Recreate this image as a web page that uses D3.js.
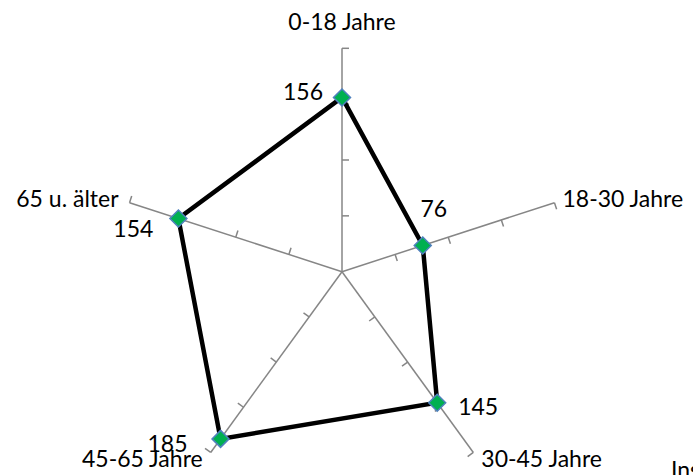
<!DOCTYPE html>
<html>
<head>
<meta charset="utf-8">
<script src="https://cdn.jsdelivr.net/npm/d3@7"></script>
<style>
  body { margin: 0; background: #fff; }
  svg { display: block; }
  text { font-family: Lato, "Noto Sans", sans-serif; font-size: 23px; fill: #000; }
</style>
</head>
<body>
<div id="chart"></div>
<script>
// data
var categories = ["0-18 Jahre", "18-30 Jahre", "30-45 Jahre", "45-65 Jahre", "65 u. älter"]
var values = [156, 76, 145, 185, 154]
var tickValues = [50, 100, 150, 200]
var legendText = "Insgesamt"

// label placement next to the points (layout only)
var labelPlace = [
  {dx: -19, dy: 3, anchor: "end"},
  {dx: 11, dy: -28, anchor: "middle"},
  {dx: 21, dy: 12, anchor: "start"},
  {dx: -33, dy: 13, anchor: "end"},
  {dx: -25, dy: 18, anchor: "end"}
]

var width = 693, height = 475
var cx = 342, cy = 271.7
var R = 223.4

var svg = d3.select("#chart").append("svg")
    .attr("width", width)
    .attr("height", height)

var r = d3.scaleLinear().domain([0, 200]).range([0, R])
var angle = d3.scaleLinear().domain([0, categories.length]).range([0, 2 * Math.PI])

function pt(i, v){
  var a = angle(i)
  return [cx + Math.sin(a) * r(v), cy - Math.cos(a) * r(v)]
}

// axes
var axes = svg.append("g").attr("class", "axes")
categories.forEach(function(c, i){
  var a = angle(i)
  var ux = Math.sin(a), uy = -Math.cos(a)
  // tick direction: rotate axis direction clockwise
  var tx = -uy, ty = ux
  var end = pt(i, 200)
  axes.append("line")
    .attr("x1", cx).attr("y1", cy)
    .attr("x2", end[0]).attr("y2", end[1])
    .attr("stroke", "#868686")
    .attr("stroke-width", 1.5)
  tickValues.forEach(function(t){
    var p = pt(i, t)
    axes.append("line")
      .attr("x1", p[0]).attr("y1", p[1])
      .attr("x2", p[0] + tx * 7).attr("y2", p[1] + ty * 7)
      .attr("stroke", "#868686")
      .attr("stroke-width", 1.5)
  })

  // category label
  var anchor = ux > 0.1 ? "start" : (ux < -0.1 ? "end" : "middle")
  var lx = end[0] + (anchor == "start" ? 8 : anchor == "end" ? -8 : 0)
  var ly = uy < -0.9 ? end[1] - 18 : (uy > 0.5 ? end[1] + 14.5 : end[1] + 4.5)
  if (ux < -0.9) lx = end[0] - 11
  axes.append("text")
    .attr("x", lx)
    .attr("y", ly)
    .attr("text-anchor", anchor)
    .text(c)
})

// series line
var line = d3.line()
  .x(function(d){ return d[0] })
  .y(function(d){ return d[1] })
  .curve(d3.curveLinearClosed)

var pts = values.map(function(v, i){ return pt(i, v) })

svg.append("path")
  .attr("d", line(pts))
  .attr("fill", "none")
  .attr("stroke", "#000")
  .attr("stroke-width", 4.5)
  .attr("stroke-linejoin", "miter")

// markers
svg.selectAll(".marker")
  .data(pts)
  .enter()
  .append("path")
  .attr("class", "marker")
  .attr("d", function(d){
    var s = 8.5
    return "M" + d[0] + "," + (d[1] - s) + "L" + (d[0] + s) + "," + d[1] +
      "L" + d[0] + "," + (d[1] + s) + "L" + (d[0] - s) + "," + d[1] + "Z"
  })
  .attr("fill", "#00B050")
  .attr("stroke", "#4F81BD")
  .attr("stroke-width", 1.5)

// data labels
svg.selectAll(".val")
  .data(values)
  .enter()
  .append("text")
  .attr("class", "val")
  .attr("x", function(d, i){ return pts[i][0] + labelPlace[i].dx })
  .attr("y", function(d, i){ return pts[i][1] + labelPlace[i].dy })
  .attr("text-anchor", function(d, i){ return labelPlace[i].anchor })
  .text(function(d){ return d })

// legend, cut off by the bottom edge
svg.append("text")
  .attr("x", 671)
  .attr("y", 478)
  .text(legendText)
</script>
</body>
</html>
